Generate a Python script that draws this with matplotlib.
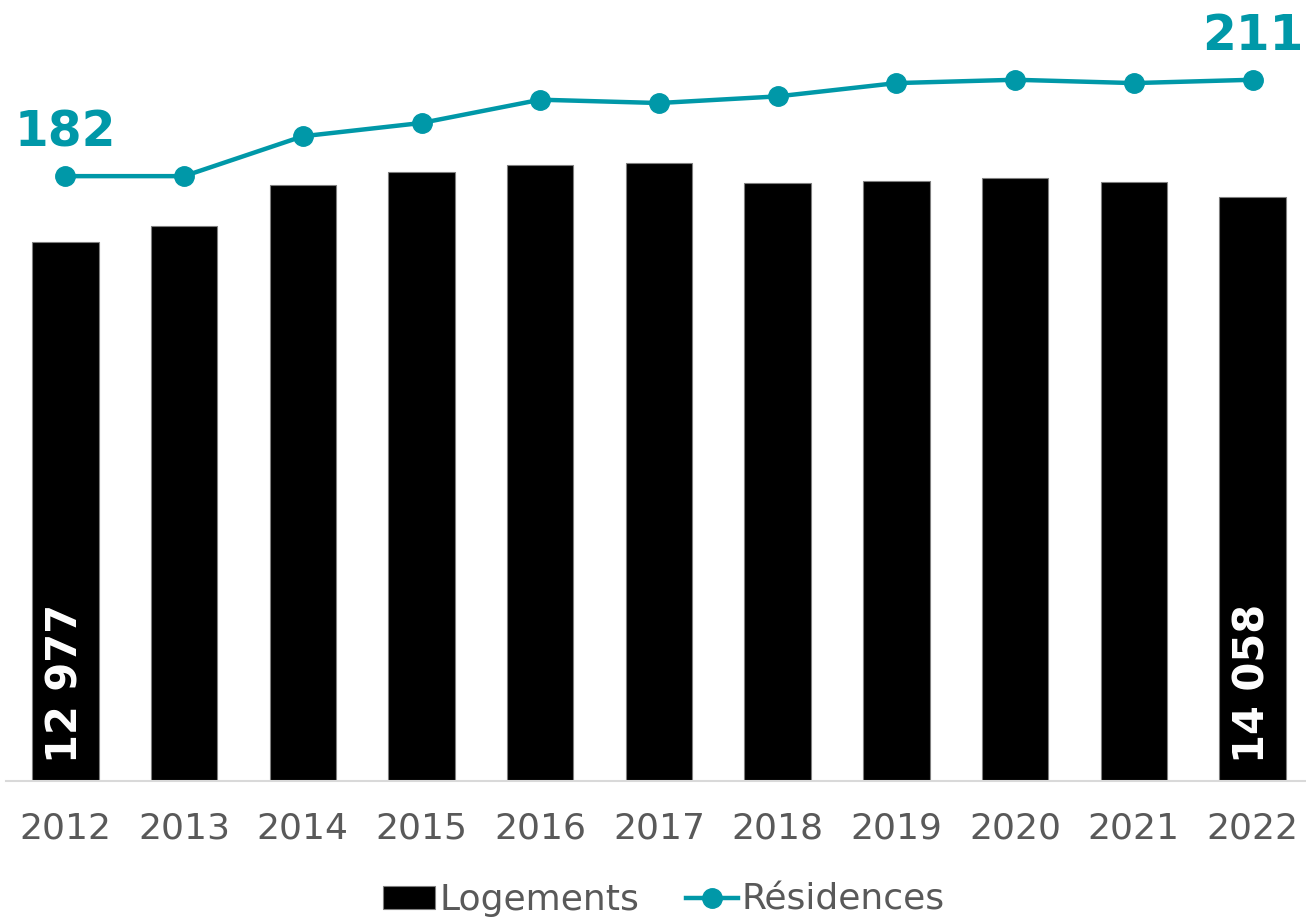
import matplotlib.pyplot as plt
import numpy as np

# Data
years = ['2012', '2013', '2014', '2015', '2016', '2017', '2018', '2019', '2020', '2021', '2022']
logements = [12977, 13360, 14350, 14640, 14830, 14860, 14380, 14430, 14500, 14400, 14058]
residences = [182, 182, 194, 198, 205, 204, 206, 210, 211, 210, 211]

teal = '#0098A8'
grey = '#595959'

plt.rcParams['font.family'] = ['DejaVu Sans']

fig = plt.figure(figsize=(13.06, 9.19), dpi=100)
ax = fig.add_axes([6 / 1306, 1 - 781 / 919, 1300 / 1306, 781 / 919])
ax2 = ax.twinx()

x = np.arange(len(years))

# Bars (primary axis)
ax.bar(x, logements, width=0.56, color='black', edgecolor='#7f7f7f', linewidth=0.8,
       label='Logements', zorder=2)
ax.set_ylim(0, 18790)
ax.set_xlim(-0.5, 10.45)

# Line (secondary axis)
ax2.plot(x, residences, color=teal, linewidth=3.2, marker='o', markersize=14,
         label='Résidences', zorder=3)
ax2.set_ylim(0, 235)

# Value labels inside first and last bars
for i in [0, len(years) - 1]:
    ax.annotate(f'{logements[i]:,}'.replace(',', ' '), xy=(x[i], 0), xytext=(0, 13),
                textcoords='offset points', rotation=90, ha='center', va='bottom',
                color='white', fontsize=30, fontweight='bold', zorder=4)

# Labels above first and last points
for i in [0, len(years) - 1]:
    ax2.annotate(str(residences[i]), xy=(x[i], residences[i]), xytext=(0, 14),
                 textcoords='offset points', ha='center', va='bottom',
                 color=teal, fontsize=35, fontweight='bold')

# Axes styling
ax.set_xticks(x)
ax.set_xticklabels(years, fontsize=26, color=grey)
ax.tick_params(axis='x', length=0, pad=22)
ax.set_yticks([])
ax2.set_yticks([])
for a in (ax, ax2):
    for s in ['top', 'right', 'left']:
        a.spines[s].set_visible(False)
ax.spines['bottom'].set_color('#d9d9d9')
ax.spines['bottom'].set_linewidth(1.5)
ax2.spines['bottom'].set_visible(False)

# Legend
h1, l1 = ax.get_legend_handles_labels()
h2, l2 = ax2.get_legend_handles_labels()
leg = fig.legend(h1 + h2, l1 + l2, loc='center', bbox_to_anchor=(664 / 1306, 1 - 900 / 919),
                 ncol=2, frameon=False, fontsize=26, handlelength=1.45, handleheight=0.6,
                 handletextpad=0.1, columnspacing=1.3, borderaxespad=0)
for t in leg.get_texts():
    t.set_color(grey)

fig.savefig('out.png', dpi=100)
